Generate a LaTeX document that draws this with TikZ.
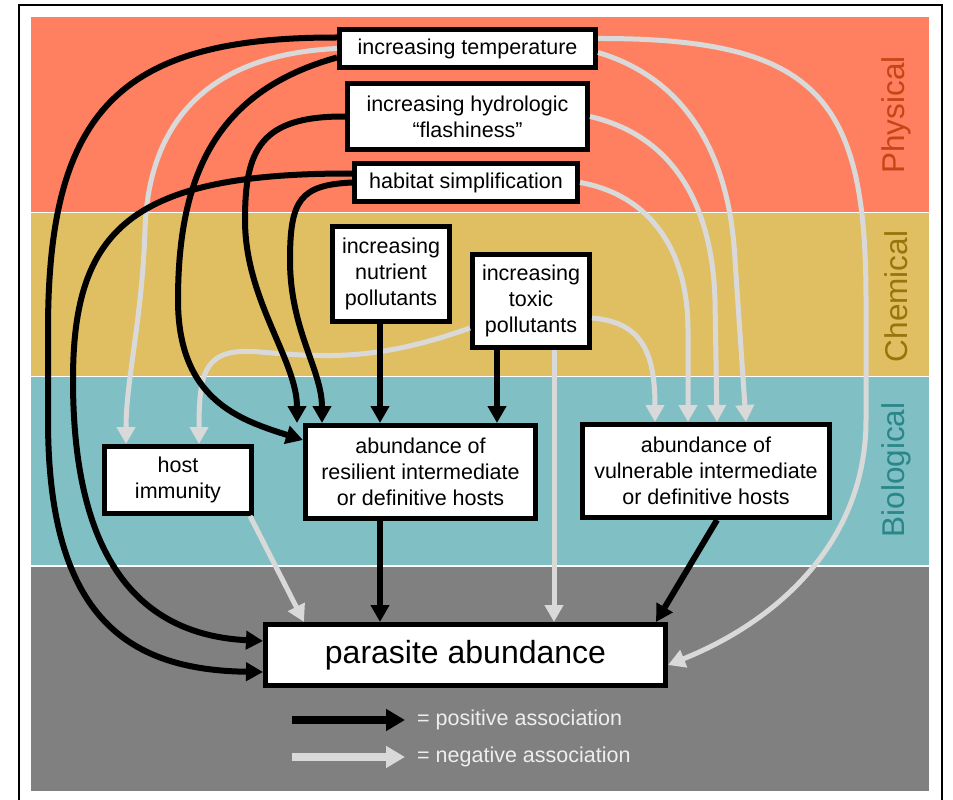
\documentclass[tikz,border=0pt]{standalone}
\usepackage{fontspec}
\setmainfont{Liberation Sans}
\usetikzlibrary{arrows.meta}
\definecolor{physband}{RGB}{255,128,96}
\definecolor{chemband}{RGB}{224,190,98}
\definecolor{bioband}{RGB}{128,192,196}
\definecolor{outband}{RGB}{128,128,128}
\definecolor{physlabel}{RGB}{196,70,22}
\definecolor{chemlabel}{RGB}{150,118,10}
\definecolor{biolabel}{RGB}{42,134,136}
\definecolor{negcol}{RGB}{217,217,217}
\definecolor{keytext}{RGB}{238,238,238}
\tikzset{
  % --- boxes ---
  factor/.style={draw, line width=5pt, fill=white, align=center, inner sep=0pt,
    font=\fontsize{21.5}{26}\selectfont},
  outcome/.style={factor, font=\fontsize{32}{38}\selectfont},
  % --- bands ---
  band/.style={draw=white, line width=1.5pt},
  bandlabel/.style={rotate=90, inner sep=0pt, font=\fontsize{31.5}{36}\selectfont},
  % --- associations ---
  posarrow/.style={-{Triangle[length=17pt, width=18pt]}, line width=6pt, black},
  negarrow/.style={-{Triangle[length=17pt, width=18pt]}, line width=5pt, negcol},
  keyarrow/.style={-{Triangle[length=19pt, width=21pt]}, line width=8pt},
  keytext/.style={anchor=west, inner sep=0pt, text=keytext,
    font=\fontsize{21.5}{26}\selectfont},
}

\begin{document}
\begin{tikzpicture}[x=1pt, y=-1pt]
    \useasboundingbox (0,0) rectangle (953,800);
    \fill[white] (0,0) rectangle (953,800);
    % bands
    \fill[band, fill=physband] (30,16) rectangle (930,212.5);
    \fill[band, fill=chemband] (30,212.5) rectangle (930,376.5);
    \fill[band, fill=bioband]  (30,376.5) rectangle (930,566);
    \fill[band, fill=outband]  (30,566) rectangle (930,792);
    \draw[line width=2pt] (19,801) -- (19,5) -- (942,5) -- (942,801);
    \node[bandlabel, text=physlabel] (physical) at (896,115)   {Physical};
    \node[bandlabel, text=chemlabel] (chemical) at (896,296.5) {Chemical};
    \node[bandlabel, text=biolabel]  (biological) at (896,470) {Biological};
    % drivers
    \node[factor, minimum width=256, minimum height=38] (temp) at (467.5,48.5) {increasing temperature};
    \node[factor, minimum width=240, minimum height=66] (hydro) at (467.5,116.5) {increasing hydrologic\\“flashiness”};
    \node[factor, minimum width=223, minimum height=38] (habitat) at (466,182.5) {habitat simplification};
    \node[factor, minimum width=117, minimum height=95] (nutrient) at (391,274) {increasing\\nutrient\\pollutants};
    \node[factor, minimum width=117, minimum height=93] (toxic) at (531,301) {increasing\\toxic\\pollutants};
    % hosts
    \node[factor, minimum width=147, minimum height=67] (immunity) at (178,480) {host\\immunity};
    \node[factor, minimum width=230, minimum height=93] (resil) at (420.5,472) {abundance of\\resilient intermediate\\or definitive hosts};
    \node[factor, minimum width=247, minimum height=93] (vulner) at (706,471) {abundance of\\vulnerable intermediate\\or definitive hosts};
    % outcome
    \node[outcome, minimum width=400, minimum height=61] (parasite) at (465.5,655) {parasite abundance};
    % negative associations
    \draw[negarrow] (temp.west) .. controls (200,55) and (148,130) .. (145,230)
      .. controls (142,320) and (126,380) .. ([xshift=-52pt]immunity.north);
    \draw[negarrow] ([yshift=-27pt]toxic.west) .. controls (380,360) and (330,358) .. (260,352)
      .. controls (205,347) and (199,370) .. ([xshift=21pt]immunity.north);
    \draw[negarrow] ([xshift=72pt]immunity.south) -- ([xshift=-161.5pt]parasite.north);
    \draw[negarrow] ([xshift=23pt]toxic.south) -- ([xshift=88.5pt]parasite.north);
    \draw[negarrow] ([yshift=-17pt]toxic.east) .. controls (640,322) and (655,350) .. ([xshift=-51pt]vulner.north);
    \draw[negarrow] (habitat.east) .. controls (650,195) and (688,250) .. (688,330) -- ([xshift=-18pt]vulner.north);
    \draw[negarrow] (hydro.east) .. controls (670,135) and (712,200) .. (715,300) -- ([xshift=11pt]vulner.north);
    \draw[negarrow] ([yshift=-4pt]temp.east) .. controls (690,80) and (730,160) .. (735,260) -- ([xshift=40pt]vulner.north);
    \draw[negarrow] ([yshift=10pt]temp.east) .. controls (820,38) and (866,100) .. (866,300) -- (866,420)
      .. controls (866,540) and (780,620) .. ([yshift=-10pt]parasite.east);
    % positive associations
    \draw[posarrow] ([yshift=11pt]temp.west) .. controls (120,37) and (48,110) .. (48,330) -- (48,420)
      .. controls (48,620) and (130,670) .. ([yshift=-17pt]parasite.west);
    \draw[posarrow] ([yshift=9pt]habitat.west) .. controls (130,173) and (73,230) .. (73,380)
      .. controls (73,560) and (140,635) .. ([yshift=14pt]parasite.west);
    \draw[posarrow] ([yshift=-9pt]temp.west) .. controls (220,90) and (178,170) .. (178,300)
      .. controls (178,400) and (240,420) .. ([yshift=32pt]resil.west);
    \draw[posarrow] (hydro.west) .. controls (260,116) and (245,150) .. (245,220)
      .. controls (245,300) and (297,360) .. ([xshift=-123.5pt]resil.north);
    \draw[posarrow] (habitat.west) .. controls (300,185) and (290,200) .. (290,260)
      .. controls (290,330) and (322,370) .. ([xshift=-98.5pt]resil.north);
    \draw[posarrow] ([xshift=-11pt]nutrient.south) -- ([xshift=-40.5pt]resil.north);
    \draw[posarrow] ([xshift=-34pt]toxic.south) -- ([xshift=76.5pt]resil.north);
    \draw[posarrow] ([xshift=-40.5pt]resil.south) -- ([xshift=-85.5pt]parasite.north);
    \draw[posarrow] ([xshift=11pt]vulner.south) -- ([xshift=190.5pt]parasite.north);
    % key
    \coordinate (poskey0) at (292,720);
    \coordinate (poskey1) at (405,720);
    \coordinate (negkey0) at (292,757);
    \coordinate (negkey1) at (405,757);
    \draw[keyarrow, black] (poskey0) -- (poskey1);
    \draw[keyarrow, negcol] (negkey0) -- (negkey1);
    \node[keytext] (postext) at (417,720) {= positive association};
    \node[keytext] (negtext) at (417,757) {= negative association};
\end{tikzpicture}
\end{document}
